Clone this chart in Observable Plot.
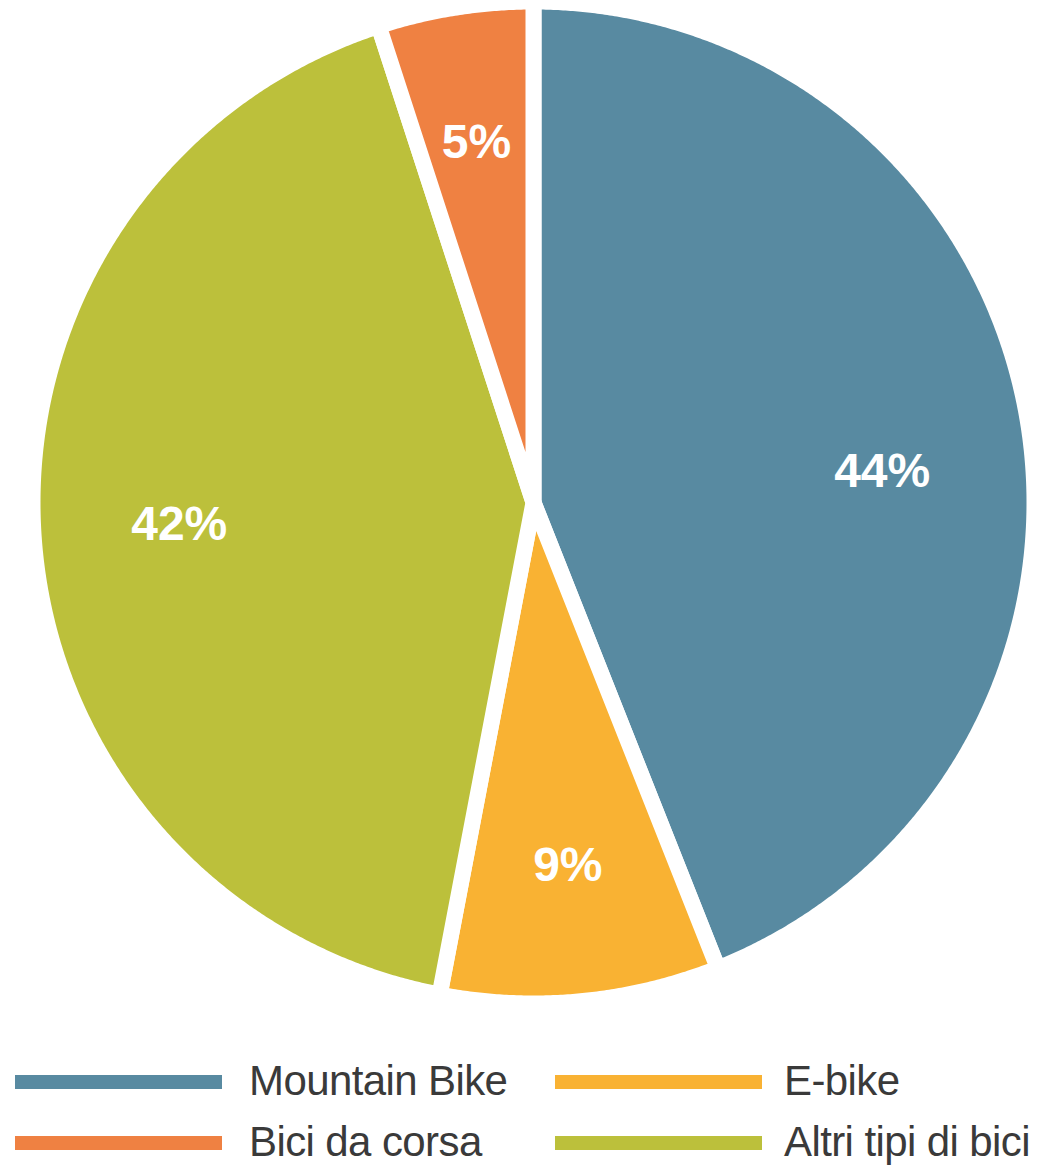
<!DOCTYPE html>
<html>
<head>
<meta charset="utf-8">
<script src="https://cdn.jsdelivr.net/npm/d3@7"></script>
<script src="https://cdn.jsdelivr.net/npm/@observablehq/plot@0.6"></script>
<style>
  html, body { margin: 0; padding: 0; background: #fff; }
  #wrap { position: relative; width: 1045px; height: 1167px; overflow: hidden; }
  #chart { position: absolute; left: 0; top: 0; }
  .leg { position: absolute; font-family: "Liberation Sans", Arial, sans-serif; font-size: 42px; color: #3a3a3a; letter-spacing: -0.6px; line-height: 1; white-space: nowrap; }
  .sw { position: absolute; width: 207px; height: 14px; }
</style>
</head>
<body>
<div id="wrap">
  <div id="chart"></div>
  <div id="legend"></div>
</div>
<script>
const categories = ["Mountain Bike", "E-bike", "Altri tipi di bici", "Bici da corsa"];
const values = [44, 9, 42, 5];
const labels = ["44%", "9%", "42%", "5%"];
const colors = ["#588AA1", "#F9B233", "#BCC03B", "#EF8142"];
const legendOrder = ["Mountain Bike", "E-bike", "Bici da corsa", "Altri tipi di bici"];

const W = 1045, H = 1040;
const cx = 533, cy = 502, rVis = 493, gap = 16;
const R = (rVis + gap / 2) / rVis;

const rows = categories.map((name, i) => ({name, value: values[i], label: labels[i]}));
const arcs = d3.pie().sort(null).value(d => d.value)(rows);

const pts = [];
for (const a of arcs) {
  pts.push({name: a.data.name, x: 0, y: 0});
  const n = Math.max(8, Math.ceil((a.endAngle - a.startAngle) / 0.005));
  for (let k = 0; k <= n; k++) {
    const t = a.startAngle + (a.endAngle - a.startAngle) * k / n;
    pts.push({name: a.data.name, x: R * Math.sin(t), y: R * Math.cos(t)});
  }
}

const labelPts = arcs.map((a, i) => {
  const m = (a.startAngle + a.endAngle) / 2;
  const r = a.data.value < 10 ? 0.74 : 0.72;
  return {idx: i, label: a.data.label, value: a.data.value, x: r * Math.sin(m), y: r * Math.cos(m)};
});

const font = {fill: "white", fontSize: 48, fontWeight: "bold", fontFamily: "Liberation Sans, Arial, sans-serif"};
const chart = Plot.plot({
  width: W, height: H,
  margin: 0,
  x: {domain: [-cx / rVis, (W - cx) / rVis], axis: null},
  y: {domain: [-(H - cy) / rVis, cy / rVis], axis: null},
  color: {domain: categories, range: colors},
  marks: [
    Plot.line(pts, {x: "x", y: "y", z: "name", fill: "name", stroke: "white", strokeWidth: gap, strokeLinejoin: "round", curve: "linear-closed"}),
    Plot.text(labelPts, {filter: d => d.idx === 0, x: "x", y: "y", text: "label", dy: 36, ...font}),
    Plot.text(labelPts, {filter: d => d.idx !== 0, x: "x", y: "y", text: "label", ...font})
  ]
});
document.getElementById("chart").appendChild(chart);

const leg = document.getElementById("legend");
const colorOf = Object.fromEntries(categories.map((c, i) => [c, colors[i]]));
legendOrder.forEach((name, i) => {
  const col = i % 2, row = Math.floor(i / 2);
  const x0 = col === 0 ? 15 : 555;
  const yc = row === 0 ? 1082 : 1143;
  const sw = document.createElement("div");
  sw.className = "sw";
  sw.style.left = x0 + "px";
  sw.style.top = (yc - 7) + "px";
  sw.style.background = colorOf[name];
  leg.appendChild(sw);
  const t = document.createElement("div");
  t.className = "leg";
  t.textContent = name;
  t.style.left = (x0 + (col === 0 ? 234 : 229)) + "px";
  t.style.top = (yc - 22) + "px";
  leg.appendChild(t);
});
</script>
</body>
</html>
